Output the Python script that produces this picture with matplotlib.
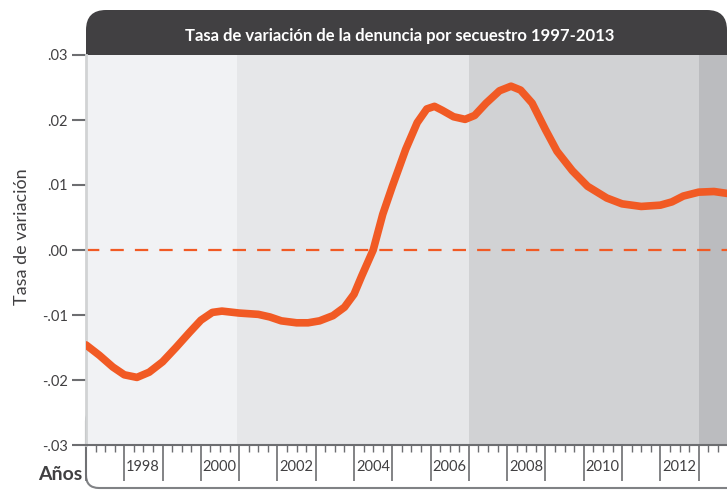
import matplotlib.pyplot as plt
import matplotlib.transforms as mtransforms
from matplotlib.patches import FancyBboxPatch
from matplotlib.ticker import MultipleLocator, NullFormatter

# Values (year, rate of change)
years = [1997.0, 1997.35, 1997.7, 1998.0, 1998.33, 1998.65, 1999.0, 1999.35,
         1999.7, 2000.0, 2000.3, 2000.55, 2001.0, 2001.5, 2001.8, 2002.1,
         2002.5, 2002.8, 2003.1, 2003.45, 2003.75, 2004.0, 2004.2, 2004.5,
         2004.75, 2005.0, 2005.35, 2005.65, 2005.9, 2006.1, 2006.3, 2006.6,
         2006.9, 2007.15, 2007.45, 2007.8, 2008.1, 2008.35, 2008.65, 2009.0,
         2009.3, 2009.7, 2010.1, 2010.6, 2011.0, 2011.5, 2012.0, 2012.3,
         2012.6, 2013.0, 2013.4, 2013.75]
rates = [-0.0146, -0.0162, -0.0180, -0.0192, -0.0196, -0.0188, -0.0172, -0.0150,
         -0.0127, -0.0108, -0.0096, -0.0094, -0.0097, -0.0099, -0.0103, -0.0109,
         -0.0112, -0.0112, -0.0109, -0.0101, -0.0088, -0.0068, -0.0040, 0.0,
         0.0055, 0.0098, 0.0155, 0.0196, 0.0217, 0.0221, 0.0215, 0.0205,
         0.0201, 0.0207, 0.0226, 0.0245, 0.0252, 0.0246, 0.0226, 0.0185,
         0.0152, 0.0122, 0.0098, 0.0080, 0.0071, 0.0067, 0.0069, 0.0074,
         0.0083, 0.0089, 0.0090, 0.0087]

# Shaded periods
band_edges = [1997, 2000.95, 2007, 2013, 2013.74]
band_colors = ['#f1f2f4', '#e6e7e9', '#d1d2d4', '#bbbcbf']

yticks = [-0.03, -0.02, -0.01, 0.0, 0.01, 0.02, 0.03]
ytick_labels = ['-.03', '-.02', '-.01', '.00', '.01', '.02', '.03']
year_labels = [1998, 2000, 2002, 2004, 2006, 2008, 2010, 2012]

title = 'Tasa de variación de la denuncia por secuestro 1997-2013'
text_color = '#414042'
line_color = '#f15a24'
tick_color = '#6d6e71'

plt.rcParams['font.family'] = ['Lato', 'DejaVu Sans']

fig = plt.figure(figsize=(7.27, 4.9), dpi=100)
W, H = 727, 490
ax = fig.add_axes([86 / W, 1 - 445 / H, 1 - 86 / W, (445 - 55) / H])

# Background bands
for i, c in enumerate(band_colors):
    ax.axvspan(band_edges[i], band_edges[i + 1], color=c, lw=0, zorder=0)

# Zero line and curve
ax.axhline(0, color=line_color, lw=1.6, dashes=(6, 5), zorder=2)
ax.plot(years, rates, color=line_color, lw=5.5, solid_capstyle='round',
        solid_joinstyle='round', zorder=3)

ax.set_xlim(1997, 2013.74)
ax.set_ylim(-0.03, 0.03)

# Y axis
ax.set_yticks(yticks)
ax.set_yticklabels(ytick_labels)
ax.tick_params(axis='y', length=10, width=1.5, color=tick_color, pad=3,
               labelsize=10.5, labelcolor=text_color)
ax.set_ylabel('Tasa de variación', fontsize=13, color=text_color)
ax.yaxis.set_label_coords(-0.088, 0.535)

# X axis: long ticks on each year, short ticks on quarters
ax.xaxis.set_major_locator(MultipleLocator(1))
ax.xaxis.set_minor_locator(MultipleLocator(0.25))
ax.xaxis.set_major_formatter(NullFormatter())
ax.tick_params(axis='x', which='major', length=26, width=1.2, color=tick_color)
ax.tick_params(axis='x', which='minor', length=5, width=1.0, color=tick_color)
trans = mtransforms.blended_transform_factory(ax.transData, ax.transAxes)
for yr in year_labels:
    ax.text(yr + 0.05, -0.038, str(yr), transform=trans, ha='left', va='top',
            fontsize=10.5, color=text_color)

for side in ['top', 'right']:
    ax.spines[side].set_visible(False)
ax.spines['left'].set_color('#d1d3d4')
ax.spines['left'].set_linewidth(2)
ax.spines['bottom'].set_color(tick_color)
ax.spines['bottom'].set_linewidth(1.5)

# Title header box (pixels -> inches)
px = 1 / 100
header = FancyBboxPatch((86 * px, (H - 80) * px), (727 - 86) * px, 70 * px,
                        boxstyle='round,pad=0,rounding_size=0.2',
                        transform=fig.dpi_scale_trans, facecolor='#414042',
                        edgecolor='none', zorder=-1)
fig.patches.append(header)
fig.text(400 / W, 1 - 36 / H, title, ha='center', va='center',
         fontsize=12, fontweight='bold', color='white')

# Rounded frame under the x axis
frame = FancyBboxPatch((86 * px, (H - 488) * px), 660 * px, 80 * px,
                       boxstyle='round,pad=0,rounding_size=0.13',
                       transform=fig.dpi_scale_trans, facecolor='white',
                       edgecolor='#808285', lw=1.5, zorder=-1)
fig.patches.append(frame)

fig.text(82 / W, 1 - 474 / H, 'Años', ha='right', va='center', fontsize=14,
         fontweight='bold', color=text_color)

fig.savefig('out.png', dpi=100)
